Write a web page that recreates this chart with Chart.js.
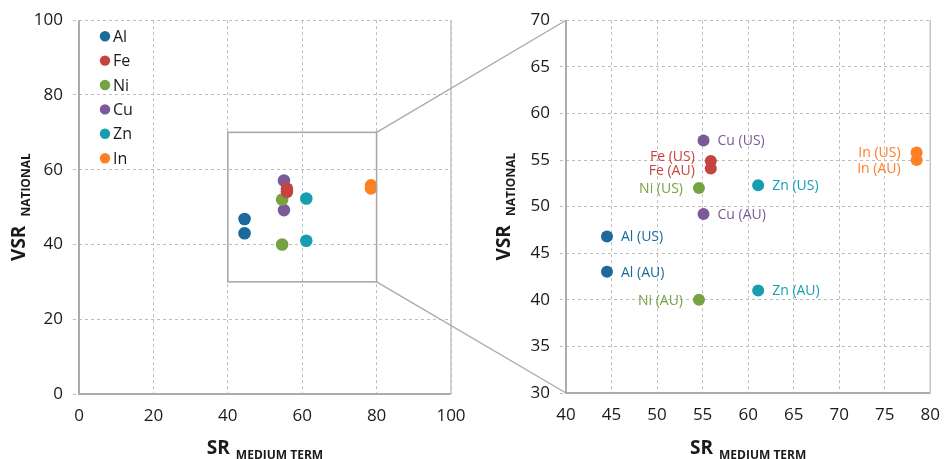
<!DOCTYPE html>
<html>
<head>
<meta charset="utf-8">
<script src="https://cdn.jsdelivr.net/npm/chart.js@4.4.1/dist/chart.umd.min.js"></script>
<style>
  html, body { margin: 0; padding: 0; background: #ffffff; }
  #wrap { position: relative; width: 952px; height: 459px; overflow: hidden; }
  #wrap canvas { position: absolute; left: 0; top: 0; }
</style>
</head>
<body>
<div id="wrap">
  <canvas id="full" width="952" height="459"></canvas>
  <canvas id="zoom" width="952" height="459"></canvas>
</div>
<script>
// Metals and the two national cases
const metals  = ['Al', 'Fe', 'Ni', 'Cu', 'Zn', 'In'];
const regions = ['US', 'AU'];

// SR (medium term) and VSR (national) for each metal
const srUS  = [44.5, 55.9, 54.6, 55.1, 61.1, 78.5];
const vsrUS = [46.8, 54.9, 52.0, 57.1, 52.3, 55.8];
const srAU  = [44.5, 55.9, 54.6, 55.1, 61.1, 78.5];
const vsrAU = [43.0, 54.1, 40.0, 49.2, 41.0, 55.0];

// Tick labels for the full view and the zoomed view
const fullTicks  = [0, 20, 40, 60, 80, 100];
const zoomXTicks = [40, 45, 50, 55, 60, 65, 70, 75, 80];
const zoomYTicks = [30, 35, 40, 45, 50, 55, 60, 65, 70];

// Zoom window shown on the full view
const zoomX = [40, 80];
const zoomY = [30, 70];

const colors = ['#1c6a9c', '#c6443f', '#76a243', '#7b5a99', '#189db0', '#ff7f24'];

const FONT = "'Open Sans', 'DejaVu Sans', sans-serif";
const TEXT = '#1a1a1a';
const GRID = '#bdbdbd';
const AXIS = '#acacac';

function makeDatasets() {
  return metals.map((m, i) => ({
    label: m,
    data: [
      { x: srUS[i], y: vsrUS[i], region: regions[0] },
      { x: srAU[i], y: vsrAU[i], region: regions[1] }
    ],
    backgroundColor: colors[i],
    borderColor: colors[i],
    borderWidth: 0,
    pointRadius: 6.3,
    pointHoverRadius: 6.3
  }));
}

function fixedTicks(values) {
  return function (scale) { scale.ticks = values.map(v => ({ value: v })); };
}

function scaleOptions(min, max, ticks, isY, size) {
  const o = {
    type: 'linear',
    min: min, max: max,
    afterBuildTicks: fixedTicks(ticks),
    grid: {
      color: GRID,
      lineWidth: 1,
      tickBorderDash: [3, 3],
      drawTicks: isY,
      tickLength: 6,
      tickColor: GRID
    },
    // dash applies to the grid lines; the solid axis lines are drawn separately
    border: { display: false, dash: [3, 3] },
    ticks: {
      color: TEXT,
      font: { family: FONT, size: 17 },
      padding: isY ? 10 : 12
    }
  };
  if (isY) {
    o.afterFit = s => { s.width = size; };
  } else {
    o.afterFit = s => { s.height = size; };
  }
  return o;
}

// Solid left, bottom and right frame of a plot area
function drawFrame(chart) {
  const ctx = chart.ctx, a = chart.chartArea;
  ctx.save();
  ctx.setLineDash([]);
  ctx.strokeStyle = AXIS;
  ctx.lineWidth = 2;
  ctx.beginPath();
  ctx.moveTo(a.left, a.top);
  ctx.lineTo(a.left, a.bottom);
  ctx.lineTo(a.right, a.bottom);
  ctx.stroke();
  ctx.strokeStyle = '#c4c4c4';
  ctx.lineWidth = 1.5;
  ctx.beginPath();
  ctx.moveTo(a.right, a.top);
  ctx.lineTo(a.right, a.bottom);
  ctx.stroke();
  ctx.restore();
}

// Axis title with a subscript, horizontal below the x axis and rotated beside the y axis
function drawAxisTitles(chart, yBaseX) {
  const ctx = chart.ctx;
  const a = chart.chartArea;
  const mainFont = 'bold 19px ' + FONT;
  const subFont = 'bold 12px ' + FONT;
  ctx.save();
  ctx.fillStyle = TEXT;
  ctx.textBaseline = 'alphabetic';
  ctx.textAlign = 'left';

  function pair(main, sub, cx, baseMain, baseSub, gap) {
    ctx.font = mainFont;
    const w1 = ctx.measureText(main).width;
    ctx.font = subFont;
    const w2 = ctx.measureText(sub).width;
    const x0 = cx - (w1 + gap + w2) / 2;
    ctx.font = mainFont;
    ctx.fillText(main, x0, baseMain);
    ctx.font = subFont;
    ctx.fillText(sub, x0 + w1 + gap, baseSub);
  }

  pair('SR', 'MEDIUM TERM', (a.left + a.right) / 2, 454, 459, 6);

  ctx.translate(yBaseX, (a.top + a.bottom) / 2);
  ctx.rotate(-Math.PI / 2);
  pair('VSR', 'NATIONAL', 0, 0, 5, 9);
  ctx.restore();
}

// ---- Full view (0..100) ----
const fullPlugin = {
  id: 'fullExtras',
  beforeDatasetsDraw(chart) { drawFrame(chart); },
  afterDatasetsDraw(chart) {
    const ctx = chart.ctx;
    const xs = chart.scales.x, ys = chart.scales.y;

    // zoom window
    const x1 = xs.getPixelForValue(zoomX[0]), x2 = xs.getPixelForValue(zoomX[1]);
    const y1 = ys.getPixelForValue(zoomY[1]), y2 = ys.getPixelForValue(zoomY[0]);
    ctx.save();
    ctx.strokeStyle = '#a9a9a9';
    ctx.lineWidth = 1.6;
    ctx.strokeRect(x1, y1, x2 - x1, y2 - y1);
    ctx.restore();

    // legend inside the plot area
    ctx.save();
    ctx.font = '16px ' + FONT;
    ctx.textBaseline = 'middle';
    ctx.textAlign = 'left';
    chart.data.datasets.forEach((ds, i) => {
      const cy = chart.chartArea.top + 16 + i * 24.4;
      const cx = chart.chartArea.left + 26;
      ctx.fillStyle = ds.backgroundColor;
      ctx.beginPath();
      ctx.arc(cx, cy, 5.2, 0, Math.PI * 2);
      ctx.fill();
      ctx.fillStyle = TEXT;
      ctx.fillText(ds.label, cx + 8, cy + 1);
    });
    ctx.restore();
  },
  afterDraw(chart) { drawAxisTitles(chart, 25); }
};

const fullChart = new Chart(document.getElementById('full'), {
  type: 'scatter',
  data: { datasets: makeDatasets() },
  options: {
    responsive: false,
    animation: false,
    events: [],
    layout: { padding: { left: 0, top: 20, right: 952 - 451, bottom: 0 } },
    plugins: { legend: { display: false }, tooltip: { enabled: false } },
    scales: {
      x: scaleOptions(0, 100, fullTicks, false, 65),
      y: scaleOptions(0, 100, fullTicks, true, 79)
    }
  },
  plugins: [fullPlugin]
});

// ---- Zoomed view (40..80 by 30..70) with point labels ----
const labelSide = { Al: 1, Fe: -1, Ni: -1, Cu: 1, Zn: 1, In: -1 };
const labelNudge = { Fe: [-5, 2], In: [-1, 8] };

const zoomPlugin = {
  id: 'zoomExtras',
  beforeDatasetsDraw(chart) { drawFrame(chart); },
  afterDatasetsDraw(chart) {
    const ctx = chart.ctx;
    ctx.save();
    ctx.font = '14px ' + FONT;
    ctx.textBaseline = 'middle';
    chart.data.datasets.forEach((ds, i) => {
      const meta = chart.getDatasetMeta(i);
      const side = labelSide[ds.label];
      const nudge = labelNudge[ds.label] || [0, 0];
      ctx.fillStyle = ds.backgroundColor;
      ctx.textAlign = side > 0 ? 'left' : 'right';
      meta.data.forEach((pt, j) => {
        const txt = ds.label + ' (' + ds.data[j].region + ')';
        const dx = side > 0 ? 14 : -16;
        ctx.fillText(txt, pt.x + dx, pt.y + nudge[j] + 1);
      });
    });
    ctx.restore();

    // guide lines from the zoom window to this plot area
    const fx = fullChart.scales.x, fy = fullChart.scales.y;
    const rx = fx.getPixelForValue(zoomX[1]);
    const rTop = fy.getPixelForValue(zoomY[1]);
    const rBot = fy.getPixelForValue(zoomY[0]);
    const a = chart.chartArea;
    ctx.save();
    ctx.strokeStyle = '#a9a9a9';
    ctx.lineWidth = 1.3;
    ctx.beginPath();
    ctx.moveTo(rx, rTop); ctx.lineTo(a.left, a.top);
    ctx.moveTo(rx, rBot); ctx.lineTo(a.left, a.bottom);
    ctx.stroke();
    ctx.restore();
  },
  afterDraw(chart) { drawAxisTitles(chart, 510); }
};

new Chart(document.getElementById('zoom'), {
  type: 'scatter',
  data: { datasets: makeDatasets().map(d => Object.assign(d, { pointRadius: 6, pointHoverRadius: 6 })) },
  options: {
    responsive: false,
    animation: false,
    events: [],
    layout: { padding: { left: 0, top: 19, right: 952 - 941, bottom: 0 } },
    plugins: { legend: { display: false }, tooltip: { enabled: false } },
    scales: {
      x: scaleOptions(zoomX[0], zoomX[1], zoomXTicks, false, 66),
      y: scaleOptions(zoomY[0], zoomY[1], zoomYTicks, true, 566)
    }
  },
  plugins: [zoomPlugin]
});
</script>
</body>
</html>
